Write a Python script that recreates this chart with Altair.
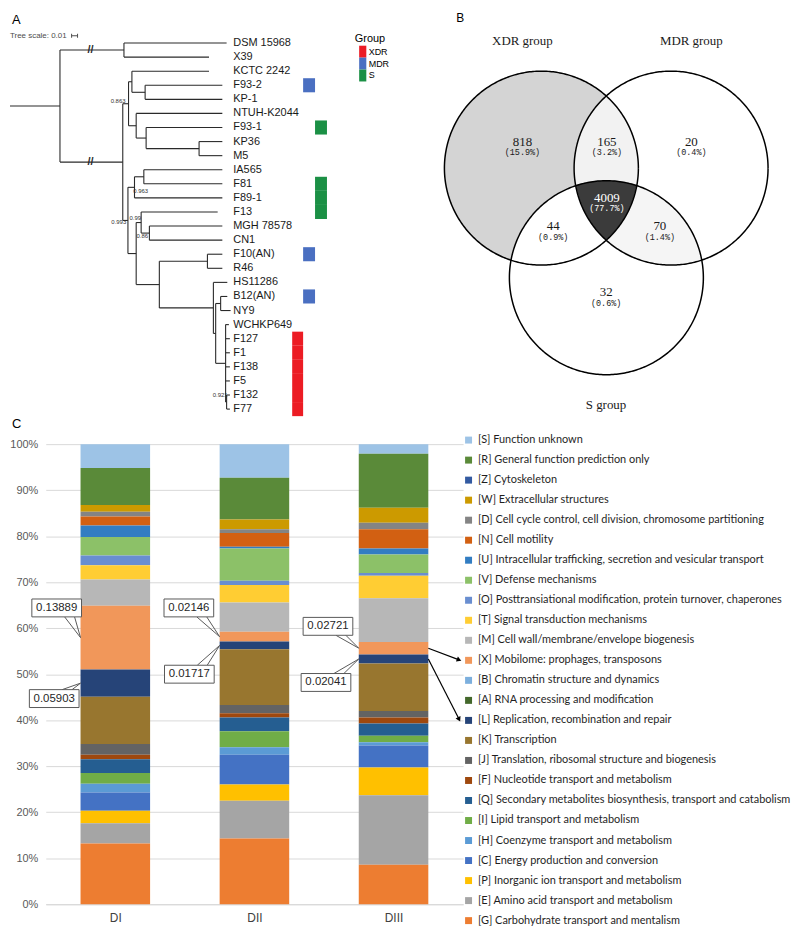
import math
import numpy as np
import pandas as pd
import altair as alt

# ======================= DATA =======================
# ---- Panel A: phylogenetic tree ----
tip_names = ["DSM 15968", "X39", "KCTC 2242", "F93-2", "KP-1", "NTUH-K2044", "F93-1", "KP36", "M5",
             "IA565", "F81", "F89-1", "F13", "MGH 78578", "CN1", "F10(AN)", "R46", "HS11286",
             "B12(AN)", "NY9", "WCHKP649", "F127", "F1", "F138", "F5", "F132", "F77"]
tip_depth = [218.0, 200.3, 200.3, 213.7, 213.7, 213.7, 213.7, 213.7, 213.7,
             213.7, 213.7, 213.7, 209.0, 213.7, 213.7, 213.7, 213.7, 218.7,
             218.7, 222.0, 220.3, 221.3, 221.3, 221.3, 221.3, 221.3, 221.3]
tip_parent = ["out", "out", "N3", "N3b", "N3b", "N4", "N4b", "N4c", "N4c",
              "N6a", "N6a", "N6", "N7a", "N7b", "N7b", "N9a", "N9a", "N10",
              "N12", "N12", "N13", "N13", "N13", "N13", "N13", "N15", "N15"]
node_names = ["root", "out", "N1", "N2", "N3", "N3b", "N4", "N4b", "N4c", "N5", "N6", "N6a",
              "N7", "N7a", "N7b", "N9", "N9a", "N10", "N11", "N12", "N13", "N15"]
node_depth = [50.3, 114.7, 113.5, 119.3, 122.7, 136.0, 127.0, 137.0, 190.3, 118.7, 125.3, 134.7,
              127.0, 132.0, 140.3, 150.3, 198.7, 204.7, 207.0, 212.0, 217.0, 218.0]
node_parent = [None, "root", "root", "N1", "N2", "N3", "N2", "N4", "N4b", "N1", "N5", "N6",
               "N5", "N7", "N7a", "N7", "N9", "N9", "N10", "N11", "N11", "N13"]
boot_text = ["0.863", "0.993", "0.963", "0.99", "0.86", "0.921"]
boot_node = ["N2", "N5", "N6", "N7a", "N7b", "N15"]
group_names = ["XDR", "MDR", "S"]
group_colors = ["#EC1C24", "#4A6FC1", "#1B9045"]
group_tips = ["F93-2", "F93-1", "F81", "F89-1", "F13", "F10(AN)", "B12(AN)",
              "F127", "F1", "F138", "F5", "F132", "F77"]
group_of_tip = ["MDR", "S", "S", "S", "S", "MDR", "MDR",
                "XDR", "XDR", "XDR", "XDR", "XDR", "XDR"]

# ---- Panel B: Venn diagram ----
venn_sets = ["XDR group", "MDR group", "S group"]
venn_members = [["XDR group"], ["XDR group", "MDR group"], ["MDR group"],
                ["XDR group", "MDR group", "S group"], ["XDR group", "S group"],
                ["MDR group", "S group"], ["S group"]]
venn_counts = ["818", "165", "20", "4009", "44", "70", "32"]
venn_pcts = ["(15.9%)", "(3.2%)", "(0.4%)", "(77.7%)", "(0.9%)", "(1.4%)", "(0.6%)"]
venn_fill = ["#D4D4D4", "#F2F2F2", "#FFFFFF", "#3B3B3B", "#FFFFFF", "#F5F5F5", "#FFFFFF"]

# ---- Panel C: COG composition (legend order, top -> bottom) ----
cog_labels = [
    "[S] Function unknown",
    "[R] General function prediction only",
    "[Z] Cytoskeleton",
    "[W] Extracellular structures",
    "[D] Cell cycle control, cell division, chromosome partitioning",
    "[N] Cell motility",
    "[U] Intracellular trafficking, secretion and vesicular transport",
    "[V] Defense mechanisms",
    "[O] Posttransiational modification, protein turnover, chaperones",
    "[T] Signal transduction mechanisms",
    "[M] Cell wall/membrane/envelope biogenesis",
    "[X] Mobilome: prophages, transposons",
    "[B] Chromatin structure and dynamics",
    "[A] RNA processing and modification",
    "[L] Replication, recombination and repair",
    "[K] Transcription",
    "[J] Translation, ribosomal structure and biogenesis",
    "[F] Nucleotide transport and metabolism",
    "[Q] Secondary metabolites biosynthesis, transport and catabolism",
    "[I] Lipid transport and metabolism",
    "[H] Coenzyme transport and metabolism",
    "[C] Energy production and conversion",
    "[P] Inorganic ion transport and metabolism",
    "[E] Amino acid transport and metabolism",
    "[G] Carbohydrate transport and mentalism",
]
cog_colors = ["#9DC3E6", "#5A8A39", "#335AA1", "#CC9A00", "#848484", "#D26012", "#327DC2",
              "#8CC168", "#698ED0", "#FFCD33", "#B7B7B7", "#F1975A", "#7CAFDD", "#43682B",
              "#264478", "#98762F", "#636363", "#9E480E", "#255E91", "#70AD47", "#5B9BD5",
              "#4472C4", "#FFC000", "#A5A5A5", "#ED7D31"]
doses = ["DI", "DII", "DIII"]
DI = [5.2, 8.0, 0.0, 1.5, 1.0, 2.0, 2.5, 4.0, 2.1, 3.1, 5.7, 13.9, 0.0, 0.0, 5.9,
      10.3, 2.3, 1.0, 3.0, 2.3, 1.9, 4.0, 2.7, 4.4, 13.2]
DII = [7.3, 9.1, 0.0, 2.1, 0.8, 3.0, 0.4, 7.0, 0.9, 3.8, 6.4, 2.1, 0.0, 0.0, 1.7,
       12.1, 1.8, 0.9, 3.0, 3.5, 1.6, 6.5, 3.5, 8.2, 14.3]
DIII = [2.1, 11.7, 0.0, 3.3, 1.4, 4.2, 1.3, 4.0, 0.6, 4.9, 9.5, 2.7, 0.0, 0.0, 2.0,
        10.3, 1.4, 1.3, 2.7, 1.4, 0.7, 4.8, 6.0, 15.1, 8.6]
callout_text = ["0.13889", "0.05903", "0.02146", "0.01717", "0.02721", "0.02041"]
callout_dose = ["DI", "DI", "DII", "DII", "DIII", "DIII"]
callout_code = ["[X]", "[L]", "[X]", "[L]", "[X]", "[L]"]
arrow_code = ["[X]", "[L]"]

# ======================= LAYOUT =======================
H1 = 406            # height of the top row
AW = 356            # panel A width (its origin is 36px right of the page content edge)
BW = 392
TREE_OFF = 36
TIP_TOP = 30.3
TIP_STEP = 14.17
CW, CH = 420, 463
PXU = CW / 3.0
PYU = CH / 100.0
LEG_STEP = 19.96
FONT = "Liberation Sans"

# ======================= PANEL A =======================
par = dict(zip(tip_names, tip_parent)); par.update(zip(node_names, node_parent))
depth = dict(zip(tip_names, tip_depth)); depth.update(zip(node_names, node_depth))
kids = {}
for n in tip_names + node_names:
    if par[n] is not None:
        kids.setdefault(par[n], []).append(n)
ypos = {n: float(i) for i, n in enumerate(tip_names)}


def node_y(n):
    if n not in ypos:
        cy = [node_y(c) for c in kids[n]]
        ypos[n] = (min(cy) + max(cy)) / 2.0
    return ypos[n]


for n in node_names:
    node_y(n)

seg = []
for n in tip_names + node_names:
    p = par[n]
    x0 = 0.0 if p is None else depth[p]
    seg.append({"x": x0, "x2": depth[n], "y": ypos[n], "y2": ypos[n]})
for n in node_names:
    cy = [ypos[c] for c in kids[n]]
    seg.append({"x": depth[n], "x2": depth[n], "y": min(cy), "y2": max(cy)})
seg_df = pd.DataFrame(seg)


def yidx(py):
    return (py - TIP_TOP) / TIP_STEP


xA = alt.Scale(domain=[TREE_OFF, TREE_OFF + AW], nice=False, zero=False)
yA = alt.Scale(domain=[yidx(0), yidx(H1)], reverse=True, nice=False, zero=False)


def XA(f):
    return alt.X(f, scale=xA, axis=None)


def YA(f):
    return alt.Y(f, scale=yA, axis=None)


tree = alt.Chart(seg_df).mark_rule(color="#2a2a2a", strokeWidth=1.1).encode(
    x=XA("x:Q"), x2="x2:Q", y=YA("y:Q"), y2="y2:Q")

tip_df = pd.DataFrame({"name": tip_names, "y": list(range(len(tip_names))),
                       "x": [224.7] * len(tip_names)})
tip_txt = alt.Chart(tip_df).mark_text(align="left", baseline="middle", font=FONT,
                                      fontSize=11, color="#1a1a1a").encode(
    x=XA("x:Q"), y=YA("y:Q"), text="name:N")

brk_df = pd.DataFrame({"x": [81.0, 81.0], "y": [ypos["out"], ypos["N1"]], "t": ["//", "//"]})
brk = alt.Chart(brk_df).mark_text(font=FONT, fontSize=11, fontWeight="bold",
                                  color="#2a2a2a").encode(x=XA("x:Q"), y=YA("y:Q"), text="t:N")

boot_off = [(-3, -3), (-1.7, 1.5), (13.7, 4), (0, -5), (-1.3, 2.6), (1, -7.4)]
boot_df = pd.DataFrame({
    "t": boot_text,
    "x": [depth[n] + o[0] for n, o in zip(boot_node, boot_off)],
    "y": [ypos[n] + o[1] / TIP_STEP for n, o in zip(boot_node, boot_off)],
})
boot = alt.Chart(boot_df).mark_text(align="right", baseline="middle", font=FONT,
                                    fontSize=6, color="#333333").encode(
    x=XA("x:Q"), y=YA("y:Q"), text="t:N")

grp_col = {"XDR": (284.0, 295.0), "MDR": (295.0, 307.0), "S": (307.0, 319.0)}
grp_df = pd.DataFrame({
    "tip": group_tips, "group": group_of_tip,
    "x0": [grp_col[g][0] for g in group_of_tip],
    "x1": [grp_col[g][1] for g in group_of_tip],
    "y0": [tip_names.index(t) - 0.5 for t in group_tips],
    "y1": [tip_names.index(t) + 0.5 for t in group_tips],
})
grp = alt.Chart(grp_df).mark_rect().encode(
    x=XA("x0:Q"), x2="x1:Q", y=YA("y0:Q"), y2="y1:Q",
    color=alt.Color("group:N", scale=alt.Scale(domain=group_names, range=group_colors),
                    legend=alt.Legend(title="Group", orient="none", legendX=311, legendY=20,
                                      symbolType="M-0.6,-1H0.6V1H-0.6Z", symbolSize=144,
                                      symbolStrokeWidth=0, symbolOpacity=1, rowPadding=0,
                                      labelFontSize=9, labelFont=FONT, labelColor="black",
                                      titleFontSize=11, titleFont=FONT, titleColor="black",
                                      titleFontWeight="normal", titlePadding=2,
                                      symbolOffset=2, labelOffset=0, padding=0)))

sc_y = yidx(23)
scale_txt = alt.Chart(pd.DataFrame({"x": [0.0], "y": [sc_y], "t": ["Tree scale: 0.01"]})).mark_text(
    align="left", baseline="middle", font=FONT, fontSize=8, color="#4d4d4d").encode(
    x=XA("x:Q"), y=YA("y:Q"), text="t:N")
scale_bar = alt.Chart(pd.DataFrame({"x": [62.0, 62.0, 68.0], "x2": [68.0, 62.0, 68.0],
                                    "y": [sc_y, sc_y - 2 / TIP_STEP, sc_y - 2 / TIP_STEP],
                                    "y2": [sc_y, sc_y + 2 / TIP_STEP, sc_y + 2 / TIP_STEP]})).mark_rule(
    color="#4d4d4d", strokeWidth=1).encode(x=XA("x:Q"), x2="x2:Q", y=YA("y:Q"), y2="y2:Q")
a_lbl = alt.Chart(pd.DataFrame({"x": [2.0], "y": [yidx(1)], "t": ["A"]})).mark_text(
    align="left", baseline="top", font=FONT, fontSize=13, color="black").encode(
    x=XA("x:Q"), y=YA("y:Q"), text="t:N")

panelA = alt.layer(tree, tip_txt, brk, boot, grp, scale_txt, scale_bar, a_lbl).properties(
    width=AW, height=H1)

# ======================= PANEL B =======================
venn_circles = {"XDR group": (140.8, 156.2, 97.6), "MDR group": (271.3, 156.2, 97.6),
                "S group": (206.2, 266.5, 97.6)}
set_label_pos = [(121.7, 28.0), (291.7, 28.0), (205.8, 395.0)]
count_pos = [(121.7, 129.7), (206.7, 129.7), (291.7, 129.7), (206.7, 186.3),
             (152.7, 214.7), (260.0, 214.7), (206.0, 281.3)]


def region_boundary(inside, n=1800):
    t = np.linspace(0, 2 * np.pi, n, endpoint=False)
    pts = []
    for k, (cx, cy, r) in venn_circles.items():
        px = cx + r * np.cos(t)
        py = cy + r * np.sin(t)
        ok = np.ones(n, bool)
        for j, (jx, jy, jr) in venn_circles.items():
            if j == k:
                continue
            d = np.hypot(px - jx, py - jy)
            ok &= (d <= jr) if j in inside else (d >= jr)
        pts.append(np.column_stack([px[ok], py[ok]]))
    P = np.vstack(pts)
    used = np.zeros(len(P), bool)
    order = [0]
    used[0] = True
    for _ in range(len(P) - 1):
        last = P[order[-1]]
        d = np.hypot(P[:, 0] - last[0], P[:, 1] - last[1])
        d[used] = np.inf
        i = int(np.argmin(d))
        order.append(i)
        used[i] = True
    Q = P[order][::3]
    return np.vstack([Q, Q[:1]])


xB = alt.Scale(domain=[0, BW], nice=False, zero=False)
yB = alt.Scale(domain=[0, H1], reverse=True, nice=False, zero=False)


def XB(f):
    return alt.X(f, scale=xB, axis=None)


def YB(f):
    return alt.Y(f, scale=yB, axis=None)


layersB = []
for mem, col in zip(venn_members, venn_fill):
    Q = region_boundary(mem)
    rdf = pd.DataFrame({"x": Q[:, 0], "y": Q[:, 1], "i": np.arange(len(Q))})
    layersB.append(alt.Chart(rdf).mark_line(fill=col, stroke=col, strokeWidth=0.5).encode(
        x=XB("x:Q"), y=YB("y:Q"), order="i:Q"))

circ_rows = []
tt = np.linspace(0, 2 * np.pi, 361)
for name, (cx, cy, r) in venn_circles.items():
    for i, a in enumerate(tt):
        circ_rows.append({"set": name, "i": i, "x": cx + r * math.cos(a), "y": cy + r * math.sin(a)})
circ = alt.Chart(pd.DataFrame(circ_rows)).mark_line(color="black", strokeWidth=1.5).encode(
    x=XB("x:Q"), y=YB("y:Q"), order="i:Q", detail="set:N")
layersB.append(circ)

set_df = pd.DataFrame({"t": venn_sets, "x": [p[0] for p in set_label_pos],
                       "y": [p[1] for p in set_label_pos]})
layersB.append(alt.Chart(set_df).mark_text(font="Liberation Serif", fontSize=13,
                                           color="#1a1a1a").encode(
    x=XB("x:Q"), y=YB("y:Q"), text="t:N"))
cnt_df = pd.DataFrame({"c": venn_counts, "p": venn_pcts,
                       "x": [p[0] for p in count_pos], "y": [p[1] for p in count_pos],
                       "y2": [p[1] + 10.5 for p in count_pos],
                       "col": ["white" if f == "#3B3B3B" else "#1a1a1a" for f in venn_fill]})
layersB.append(alt.Chart(cnt_df).mark_text(font="Liberation Serif", fontSize=13).encode(
    x=XB("x:Q"), y=YB("y:Q"), text="c:N", color=alt.Color("col:N", scale=None)))
layersB.append(alt.Chart(cnt_df).mark_text(font="Liberation Mono", fontSize=8.5).encode(
    x=XB("x:Q"), y=YB("y2:Q"), text="p:N", color=alt.Color("col:N", scale=None)))
layersB.append(alt.Chart(pd.DataFrame({"x": [55.0], "y": [0.0], "t": ["B"]})).mark_text(
    align="left", baseline="top", font=FONT, fontSize=12, color="black").encode(
    x=XB("x:Q"), y=YB("y:Q"), text="t:N"))

panelB = alt.layer(*layersB).properties(width=BW, height=H1)

# ======================= PANEL C =======================
vals = {"DI": DI, "DII": DII, "DIII": DIII}
rows = []
for p, d in enumerate(doses):
    for i, lab in enumerate(cog_labels):
        rows.append({"dose": d, "pos": p, "label": lab,
                     "order": len(cog_labels) - 1 - i, "value": vals[d][i]})
dfC = pd.DataFrame(rows)


def seg_mid(d, code):
    labs = list(reversed(cog_labels))
    v = list(reversed(vals[d]))
    k = [j for j, l in enumerate(labs) if l.startswith(code)][0]
    return sum(v[:k]) + v[k] / 2.0


xC = alt.Scale(domain=[-0.5, 2.5], nice=False, zero=False)
yC = alt.Scale(domain=[0, 100], nice=False, zero=False)
axX = alt.Axis(values=[0, 1, 2], labelExpr="['DI','DII','DIII'][datum.value]", title=None,
               grid=False, ticks=False, domainColor="#D9D9D9", labelFontSize=12, labelFont=FONT,
               labelColor="#404040", labelPadding=8)
axY = alt.Axis(values=list(range(0, 101, 10)), labelExpr="datum.value + '%'", title=None,
               ticks=False, domain=False, gridColor="#D9D9D9", labelFontSize=11, labelFont=FONT,
               labelColor="#595959", labelPadding=8)


def XC(f):
    return alt.X(f, scale=xC, axis=axX)


def YC(f):
    return alt.Y(f, scale=yC, axis=axY)


bars = alt.Chart(dfC).transform_stack(
    stack="value", groupby=["dose"], sort=[alt.SortField("order", order="ascending")],
    as_=["y0", "y1"]
).transform_calculate(x0="datum.pos - 0.25", x1="datum.pos + 0.25").mark_bar().encode(
    x=XC("x0:Q"), x2="x1:Q", y=YC("y0:Q"), y2="y1:Q",
    color=alt.Color("label:N", scale=alt.Scale(domain=cog_labels, range=cog_colors),
                    legend=alt.Legend(title=None, orient="none", legendX=CW, legendY=-9.6,
                                      direction="vertical", symbolType="square", symbolSize=49,
                                      symbolStrokeWidth=0, symbolOpacity=1, labelFont="Lato",
                                      labelFontSize=11, labelColor="#1f1f1f", labelLimit=400,
                                      labelOffset=4, rowPadding=8.15, padding=0)))

callout_dx = [-59.0, -61.5, -66.0, -65.5, -66.0, -68.0]
callout_y = [64.4, 44.7, 64.4, 50.0, 60.4, 48.2]
box_rows, wedge_rows = [], []
for t, d, c, dx, cy in zip(callout_text, callout_dose, callout_code, callout_dx, callout_y):
    pos = doses.index(d)
    cx = pos + dx / PXU
    box_rows.append({"t": t, "cx": cx, "cy": cy, "bx0": cx - 25 / PXU, "bx1": cx + 25 / PXU,
                     "by0": cy - 9 / PYU, "by1": cy + 9 / PYU})
    mid = seg_mid(d, c)
    edge = cy - 9 / PYU if mid < cy else cy + 9 / PYU
    for off in (8.0, 18.0):
        wedge_rows.append({"x": cx + off / PXU, "y": edge, "x2": pos - 0.25, "y2": mid})
box_df = pd.DataFrame(box_rows)
wedge_df = pd.DataFrame(wedge_rows)

boxes = alt.Chart(box_df).mark_rect(fill="white", stroke="#595959", strokeWidth=1).encode(
    x=XC("bx0:Q"), x2="bx1:Q", y=YC("by0:Q"), y2="by1:Q")
box_txt = alt.Chart(box_df).mark_text(font=FONT, fontSize=11.5, color="#262626").encode(
    x=XC("cx:Q"), y=YC("cy:Q"), text="t:N")
wedges = alt.Chart(wedge_df).mark_rule(color="#595959", strokeWidth=1).encode(
    x=XC("x:Q"), x2="x2:Q", y=YC("y:Q"), y2="y2:Q")

arrow_rows = []
for code in arrow_code:
    k = [j for j, l in enumerate(cog_labels) if l.startswith(code)][0]
    y_end = 100 - (-2.5 + LEG_STEP * k) / PYU
    y_start = seg_mid("DIII", code)
    x_start = 2 + 0.25
    x_end = 2 + 66 / PXU
    ang = math.degrees(math.atan2((y_start - y_end) * PYU, (x_end - x_start) * PXU)) % 360
    arrow_rows.append({"x": x_start, "y": y_start, "x2": x_end, "y2": y_end, "ang": ang})
arrow_df = pd.DataFrame(arrow_rows)
arrows = alt.Chart(arrow_df).mark_rule(color="black", strokeWidth=1.2).encode(
    x=XC("x:Q"), x2="x2:Q", y=YC("y:Q"), y2="y2:Q")
heads = alt.Chart(arrow_df).mark_point(shape="triangle-right", filled=True, color="black",
                                       size=30, opacity=1).encode(
    x=XC("x2:Q"), y=YC("y2:Q"), angle=alt.Angle("ang:Q", scale=None))

c_lbl = alt.Chart(pd.DataFrame({"x": [-0.5 - 34 / PXU], "y": [100 + 16 / PYU], "t": ["C"]})).mark_text(
    align="left", baseline="alphabetic", font=FONT, fontSize=13, color="black").encode(
    x=XC("x:Q"), y=YC("y:Q"), text="t:N")

panelC = alt.layer(bars, wedges, boxes, box_txt, arrows, heads, c_lbl).properties(
    width=CW, height=CH)

chart = alt.vconcat(
    alt.hconcat(panelA, panelB, spacing=0),
    panelC,
    spacing=0,
).resolve_scale(color="independent").properties(
    padding=0, background="white"
).configure_view(stroke="transparent")

chart.save("out.html", embed_options={"renderer": "svg", "actions": False})
